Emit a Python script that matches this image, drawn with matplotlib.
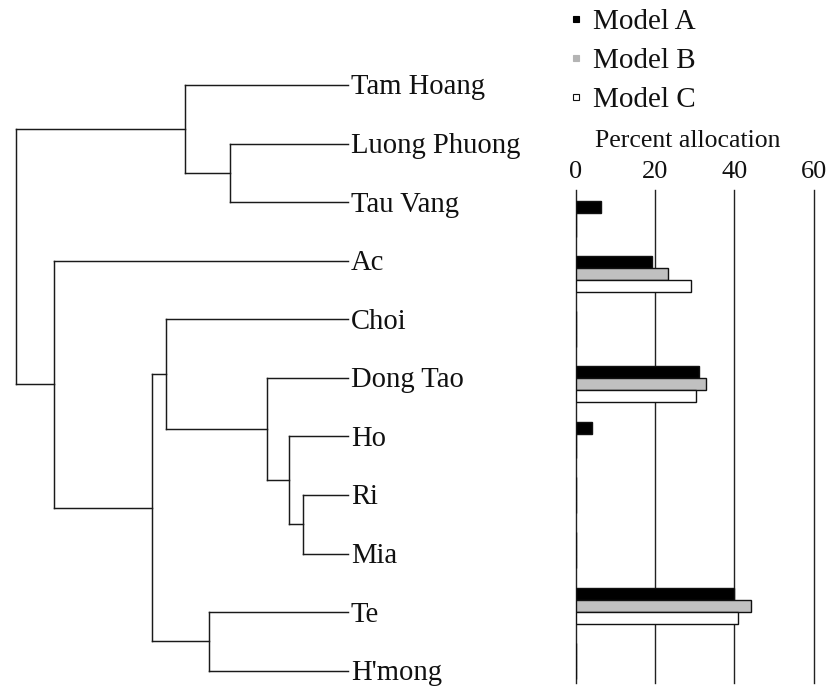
import matplotlib
matplotlib.use("Agg")
import matplotlib.pyplot as plt
from matplotlib.lines import Line2D

plt.rcParams["font.family"] = ["Liberation Serif", "DejaVu Serif"]

# Breeds in dendrogram leaf order
breeds = ["Tam Hoang", "Luong Phuong", "Tau Vang", "Ac", "Choi", "Dong Tao",
          "Ho", "Ri", "Mia", "Te", "H'mong"]

# Agglomerative merges: (left node, right node, relative distance)
# leaves are 0..10, each merge creates node 11, 12, ...
merges = [
    (7, 8, 0.136),    # 11: Ri + Mia
    (6, 11, 0.178),   # 12: Ho + 11
    (5, 12, 0.245),   # 13: Dong Tao + 12
    (4, 13, 0.549),   # 14: Choi + 13
    (9, 10, 0.419),   # 15: Te + H'mong
    (14, 15, 0.591),  # 16
    (3, 16, 0.886),   # 17: Ac + 16
    (1, 2, 0.355),    # 18: Luong Phuong + Tau Vang
    (0, 18, 0.491),   # 19: Tam Hoang + 18
    (19, 17, 1.000),  # 20: root
]

# Percent allocation per model
model_names = ["Model A", "Model B", "Model C"]
model_a = [0, 0, 6.3, 19.2, 0, 31.1, 4.1, 0, 0, 40.0, 0]
model_b = [0, 0, 0, 23.1, 0, 32.8, 0, 0, 0, 44.1, 0]
model_c = [0, 0, 0, 29.1, 0, 30.3, 0, 0, 0, 41.0, 0]
x_ticks = [0, 20, 40, 60]

W, H = 831, 686
fig = plt.figure(figsize=(W / 100, H / 100), dpi=100)
line_col = "#1a1a1a"

# ---------------- dendrogram ----------------
top_px, bot_px = 85, 670.7
left_px, right_px = 15.7, 348
axd = fig.add_axes([left_px / W, 1 - bot_px / H,
                    (right_px - left_px) / W, (bot_px - top_px) / H])
axd.set_xlim(1.0, 0.0)
axd.set_ylim(len(breeds) - 1, 0)
axd.axis("off")

pos = {i: float(i) for i in range(len(breeds))}
height = {i: 0.0 for i in range(len(breeds))}
for k, (a, b, h) in enumerate(merges):
    node = len(breeds) + k
    ya, yb = pos[a], pos[b]
    axd.plot([height[a], h], [ya, ya], color=line_col, lw=1.05, clip_on=False)
    axd.plot([height[b], h], [yb, yb], color=line_col, lw=1.05, clip_on=False)
    axd.plot([h, h], [ya, yb], color=line_col, lw=1.05, clip_on=False)
    pos[node] = (ya + yb) / 2
    height[node] = h

for i, name in enumerate(breeds):
    axd.annotate(name, xy=(0, i), xytext=(2.0, -6.8), textcoords="offset points",
                 ha="left", va="baseline", fontsize=20.6, color="#111111",
                 annotation_clip=False)

# ---------------- bar chart ----------------
row_px = 55.3
row0_px = 206.5 - 2 * row_px
g_top, g_bot = 190, 683
axb = fig.add_axes([576 / W, 1 - g_bot / H, (813.7 - 576) / W, (g_bot - g_top) / H])
axb.set_xlim(0, 60)
axb.set_ylim((g_bot - row0_px) / row_px, (g_top - row0_px) / row_px)

bar_h = 12 / row_px
rows = list(range(len(breeds)))
series = [model_a, model_b, model_c]
fills = ["#000000", "#c0c0c0", "#ffffff"]
for j, (vals, fc, name) in enumerate(zip(series, fills, model_names)):
    axb.barh([r + j * bar_h for r in rows], vals, height=bar_h, color=fc,
             edgecolor="#111111", linewidth=1.0, label=name, zorder=3)

axb.set_xticks(x_ticks)
axb.set_yticks([])
axb.xaxis.tick_top()
axb.tick_params(axis="x", length=0, pad=5, labelsize=19, labelcolor="#111111")
axb.grid(axis="x", color="#222222", lw=1.0, zorder=1)
for gl in axb.get_xgridlines():
    gl.set_clip_on(False)
for s in axb.spines.values():
    s.set_visible(False)

axb.set_xlabel("Percent allocation", fontsize=18.5, color="#111111")
axb.xaxis.set_label_position("top")
axb.xaxis.set_label_coords(0.471, 1.077)
axb.xaxis.label.set_va("bottom")

# Small square keys for the legend
edge_cols = ["#000000", "#b4b4b4", "#111111"]
key_fills = ["#000000", "#b4b4b4", "#ffffff"]
handles = [Line2D([], [], ls="none", marker="s", markersize=5.0,
                  markerfacecolor=fc, markeredgecolor=ec, markeredgewidth=0.8)
           for fc, ec in zip(key_fills, edge_cols)]
leg = fig.legend(handles, model_names, loc="upper left",
                 bbox_to_anchor=(567 / W, 1 - 9 / H),
                 frameon=False, fontsize=21, handlelength=0.6,
                 handletextpad=0.3, labelspacing=0.42,
                 borderpad=0, borderaxespad=0)
for t in leg.get_texts():
    t.set_color("#111111")

fig.savefig("out.png", dpi=100, facecolor="white")
